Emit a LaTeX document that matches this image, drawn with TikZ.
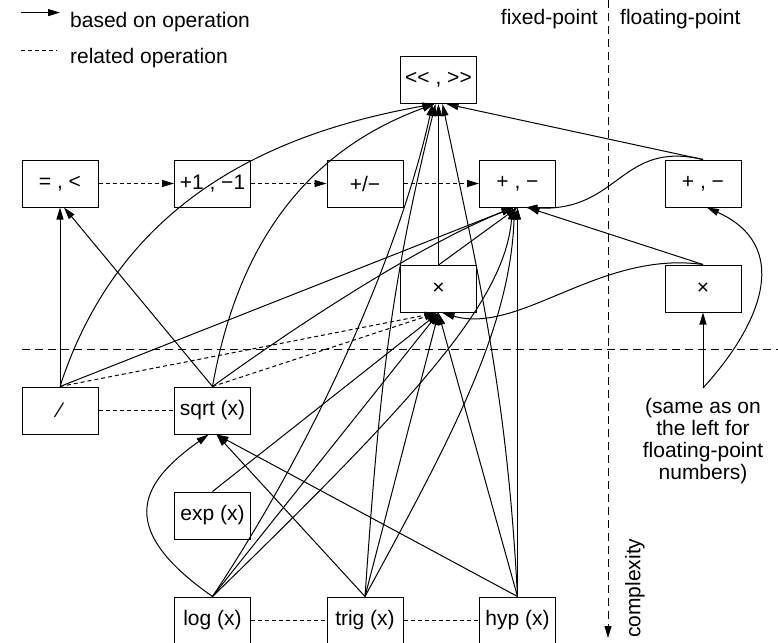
\documentclass[tikz,border=0pt]{standalone}
\usepackage{fontspec}
\setmainfont{Liberation Sans}
\usetikzlibrary{arrows.meta, positioning}

\begin{document}
\begin{tikzpicture}[
    x=0.5pt, y=-0.5pt,
    font=\fontsize{10.5}{10.9}\selectfont,
    line width=0.5pt,
    box/.style={rectangle, draw, minimum height=23.5pt, minimum width=38pt, inner sep=1pt, align=center},
    arrow/.style={-{Triangle[length=6pt, width=3.5pt]}},
    rel/.style={dash pattern=on 2pt off 1.5pt},
    divider/.style={dash pattern=on 4pt off 2.5pt},
    node distance=28.5pt and 37.75pt
]
    \useasboundingbox (0,0) rectangle (778,643);

    % Legend and headings
    \node[anchor=base west] (based) at (63,27) {based on operation};
    \node[anchor=base west] (related) at (63,63) {related operation};
    \node[anchor=base east] (fixed) at (605,24) {fixed-point};
    \node[anchor=base west] (floating) at (613,24) {floating-point};
    \node[rotate=90, anchor=north west] (cplx) at (618,645) {complexity};

    % Nodes
    \node[box] (shift) at (438.5,80) {\mbox{<}\mbox{<} , \mbox{>}\mbox{>}};
    \node[box] (cmp) at (60,183.5) {= , <};
    \node[box, right=of cmp] (inc) {+1 , −1};
    \node[box, right=of inc] (pm) {+/−};
    \node[box, right=of pm] (add) {+ , −};
    \node[box] (mul) at (438.5,289) {×};
    \node[box] (fadd) at (703,183.5) {+ , −};
    \node[box] (fmul) at (703,288.5) {×};
    \node[box] (div) at (60,410.5) {⁄};
    \node[box, right=of div] (sqrt) {sqrt (x)};
    \node[box, below=of sqrt] (exp) {exp (x)};
    \node[box, below=of exp] (log) {log (x)};
    \node[box, right=of log] (trig) {trig (x)};
    \node[box, right=of trig] (hyp) {hyp (x)};
    \node[align=center, inner sep=5pt] (note) at (703,441) {(same as on\\the left for\\floating-point\\numbers)};

    % Legend lines and dividers
    \draw[arrow] ([yshift=4.5pt]based.west) ++(-42,0) -- ([xshift=-1.5pt, yshift=4.5pt]based.west);
    \draw[rel] ([yshift=3.5pt]related.west) ++(-42,0) -- ([xshift=-3pt, yshift=3.5pt]related.west);
    \draw[divider] (22,349) -- (778,349);
    \draw[divider, arrow] (608,0) -- (608,638);

    % Related operations
    \draw[rel, arrow] (cmp) -- (inc);
    \draw[rel, arrow] (inc) -- (pm);
    \draw[rel, arrow] (pm) -- (add);
    \draw[rel] (div) -- (sqrt);
    \draw[rel] (log) -- (trig);
    \draw[rel] (trig) -- (hyp);
    \draw[rel, arrow] (div.north) -- ([xshift=-1pt]mul.south);
    \draw[rel, arrow] (sqrt.north) -- ([xshift=-1pt]mul.south);

    % Basic operations
    \draw[arrow] (mul) -- (shift);
    \draw[arrow] (mul.north) -- (add.south);
    \draw[arrow] (fadd.north) -- ([xshift=4pt]shift.south);
    \draw[arrow] (fadd.north) .. controls (620,140) and (620,212) .. ([xshift=4pt]add.south);
    \draw[arrow] (fmul.north) -- ([xshift=5pt]add.south);
    \draw[arrow] (fmul.north) .. controls (600,250) and (520,335) .. ([xshift=2pt]mul.south);
    \draw[arrow] (note.north) -- (fmul);
    \draw[arrow] (note.north) .. controls (765,320) and (790,245) .. ([xshift=2pt]fadd.south);

    % Division and square root
    \draw[arrow] (div) -- (cmp);
    \draw[arrow] (div.north) to[out=72, in=190] ([xshift=-2pt]shift.south);
    \draw[arrow] (div.north) -- ([xshift=-2pt]add.south);
    \draw[arrow] (sqrt.north) -- ([xshift=2pt]cmp.south);
    \draw[arrow] (sqrt.north) to[out=80, in=200] ([xshift=-2pt]shift.south);
    \draw[arrow] (sqrt.north) .. controls (300,323) and (420,245) .. ([xshift=-2pt]add.south);

    % Functions
    \draw[arrow] (exp.north) -- (mul.south);
    \draw[arrow] (log.north) .. controls (110,525) and (145,480) .. ([xshift=-2pt]sqrt.south);
    \draw[arrow] (log.north) -- (mul.south);
    \draw[arrow] (log.north) .. controls (420,395) and (505,300) .. ([xshift=-2.5pt]add.south);
    \draw[arrow] (log.north) .. controls (330,420) and (405,230) .. ([xshift=-3pt]shift.south);
    \draw[arrow] (trig.north) -- ([xshift=2pt]sqrt.south);
    \draw[arrow] (trig.north) -- (mul.south);
    \draw[arrow] (trig.north) .. controls (450,440) and (510,330) .. ([xshift=-1.5pt]add.south);
    \draw[arrow] (trig.north) to[out=86, in=256] ([xshift=-1.5pt]shift.south);
    \draw[arrow] (hyp.north) -- ([xshift=2pt]sqrt.south);
    \draw[arrow] (hyp.north) -- (mul.south);
    \draw[arrow] (hyp.north) -- (add.south);
    \draw[arrow] (hyp.north) to[out=93, in=-78] ([xshift=2pt]shift.south);
\end{tikzpicture}
\end{document}
